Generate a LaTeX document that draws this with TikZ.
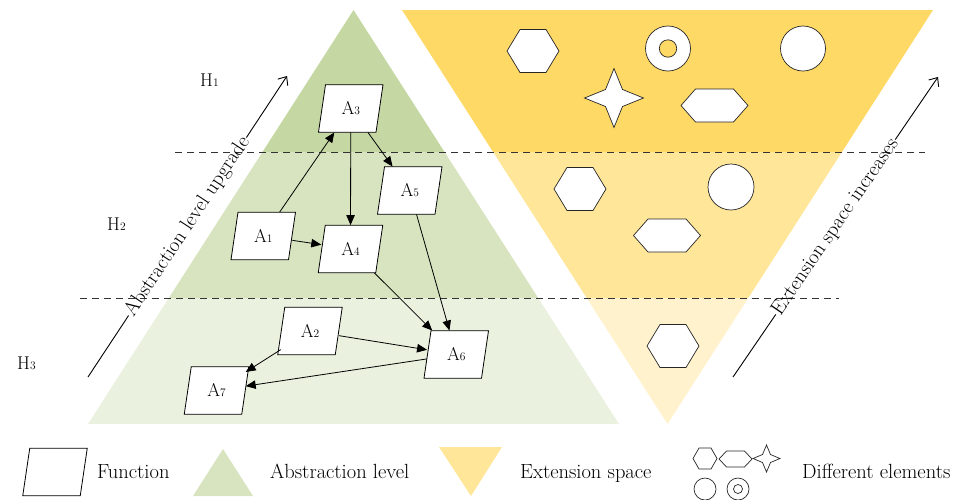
\documentclass[tikz,border=0pt]{standalone}
\usetikzlibrary{arrows.meta}

\definecolor{gA}{HTML}{C5D8A3}
\definecolor{gB}{HTML}{D7E4BF}
\definecolor{gC}{HTML}{EAF1DE}
\definecolor{yA}{HTML}{FFD966}
\definecolor{yB}{HTML}{FFE699}
\definecolor{yC}{HTML}{FFF2CC}

% label with a small index digit on the baseline
\newcommand\sublbl[2]{#1{\fontsize{11.5}{12}\selectfont #2}}
% function box: slanted frame drawn first, then the named node on top
\newcommand\fnbox[3]{%
  \draw[fnframe, shift={#2}] (-25.25,-23.75) -- (32.25,-23.75) -- (25.25,23.75) -- (-32.25,23.75) -- cycle;
  \node[fn] (#1) at #2 {#3};}
% hexagon: centre x, centre y, half width, half top edge, half height
\newcommand\hexshape[5]{\draw[elem, shift={(#1,#2)}] (-#3,0) -- (-#4,-#5) -- (#4,-#5) -- (#3,0) -- (#4,#5) -- (-#4,#5) -- cycle;}
% four-pointed star: centre x, centre y, tip radius, inner corner offset
\newcommand\starshape[4]{\draw[elem, shift={(#1,#2)}] (0,-#3) -- (#4,-#4) -- (#3,0) -- (#4,#4) -- (0,#3) -- (-#4,#4) -- (-#3,0) -- (-#4,-#4) -- cycle;}

\tikzset{
  fn/.style={rectangle, minimum width=58pt, minimum height=47.5pt, inner sep=0pt,
    font=\fontsize{18.5}{21}\selectfont},
  fnframe/.style={draw, fill=white, line width=0.8pt, line join=miter},
  conn/.style={-{Triangle[length=10pt,width=8.5pt]}, line width=0.8pt},
  elem/.style={draw=black!85, fill=white, line width=0.7pt, line join=miter},
  level/.style={dash pattern=on 7pt off 5pt, line width=0.8pt, draw=black!80},
  trend/.style={line width=0.9pt},
  trendtip/.style={trend, -{Straight Barb[length=7pt,width=12pt]}},
  hlabel/.style={anchor=base west, inner sep=0pt, font=\fontsize{18.5}{21}\selectfont},
  legtext/.style={anchor=base west, inner sep=0pt},
}

\begin{document}
\begin{tikzpicture}[x=1pt,y=-1pt,font=\fontsize{20.5}{23}\selectfont]
\useasboundingbox (0,0) rectangle (960,499);

% abstraction levels (green pyramid)
\begin{scope}
  \clip (353.5,10) -- (619,424) -- (88,424) -- cycle;
  \fill[gA] (0,0) rectangle (960,152);
  \fill[gB] (0,152) rectangle (960,298);
  \fill[gC] (0,298) rectangle (960,424);
\end{scope}

% extension space (inverted yellow triangle)
\begin{scope}
  \clip (402,10) -- (933,10) -- (667.5,424) -- cycle;
  \fill[yA] (0,0) rectangle (960,152);
  \fill[yB] (0,152) rectangle (960,298);
  \fill[yC] (0,298) rectangle (960,424);
\end{scope}

% level separators
\coordinate (d1s) at (175,152); \coordinate (d1e) at (925,152);
\coordinate (d2s) at (80,298);  \coordinate (d2e) at (839,298);
\draw[level] (d1s) -- (d1e);
\draw[level] (d2s) -- (d2e);

% level names
\node[hlabel] (h1) at (200,86) {\sublbl{H}{1}};
\node[hlabel] (h2) at (107,230) {\sublbl{H}{2}};
\node[hlabel] (h3) at (17,369) {\sublbl{H}{3}};

% elements of the extension space
\hexshape{533}{51}{26}{13}{21.5}
\draw[elem] (668,48.5) circle[radius=22.5];
\draw[elem, fill=yA] (668,48.5) circle[radius=8.7];
\draw[elem] (803,48.5) circle[radius=22.5];
\starshape{614}{98}{29.5}{8.5}
\hexshape{714.5}{105.5}{33.5}{19}{16.5}
\hexshape{580}{189}{26}{13}{21.5}
\draw[elem] (731,187) circle[radius=23];
\hexshape{667}{235.5}{33.5}{19}{16.5}
\hexshape{673}{346}{26}{13}{21.5}

% functions
\fnbox{a3}{(350.75,108.5)}{\sublbl{A}{3}}
\fnbox{a5}{(409.75,190.5)}{\sublbl{A}{5}}
\fnbox{a1}{(263.25,236)}{\sublbl{A}{1}}
\fnbox{a4}{(350.5,249)}{\sublbl{A}{4}}
\fnbox{a2}{(310,331)}{\sublbl{A}{2}}
\fnbox{a6}{(456.25,354.5)}{\sublbl{A}{6}}
\fnbox{a7}{(216.5,390.5)}{\sublbl{A}{7}}

\draw[conn] (a1) -- (a3);
\draw[conn] (a1) -- (a4);
\draw[conn] (a3) -- (a4);
\draw[conn] (a3) -- (a5);
\draw[conn] (a5) -- (a6);
\draw[conn] (a4) -- (a6);
\draw[conn] (a2) -- (a6);
\draw[conn] (a6) -- (a7);
\draw[conn] (a2) -- (a7);

% trend arrows
\coordinate (ls) at (88,377);  \coordinate (le) at (287,76);
\node[rotate=56.5, inner sep=1pt] (lt) at (187.5,226.5) {Abstraction level upgrade};
\draw[trend] (ls) -- (lt.west);
\draw[trendtip] (lt.east) -- (le);

\coordinate (rs) at (733,377); \coordinate (re) at (938,77);
\node[rotate=55.65, inner sep=1pt] (rt) at (835.5,227) {Extension space increases};
\draw[trend] (rs) -- (rt.west);
\draw[trendtip] (rt.east) -- (re);

% legend
\fnbox{lgf}{(55,472)}{}
\node[legtext] (lgft) at (97,478) {Function};
\fill[gB] (223,449) -- (253,496) -- (193,496) -- cycle;
\node[legtext] (lgat) at (270,478) {Abstraction level};
\fill[yB] (439,447) -- (502,447) -- (471,496) -- cycle;
\node[legtext] (lgyt) at (520,478) {Extension space};
\hexshape{705}{458.5}{12}{6}{10.5}
\hexshape{735.5}{459}{16.5}{9}{8}
\starshape{766.5}{458.5}{13.5}{4}
\draw[elem] (705,489) circle[radius=11];
\draw[elem] (738,489) circle[radius=11];
\draw[elem] (738,489) circle[radius=4.5];
\node[legtext] (lget) at (802,478) {Different elements};
\end{tikzpicture}
\end{document}
